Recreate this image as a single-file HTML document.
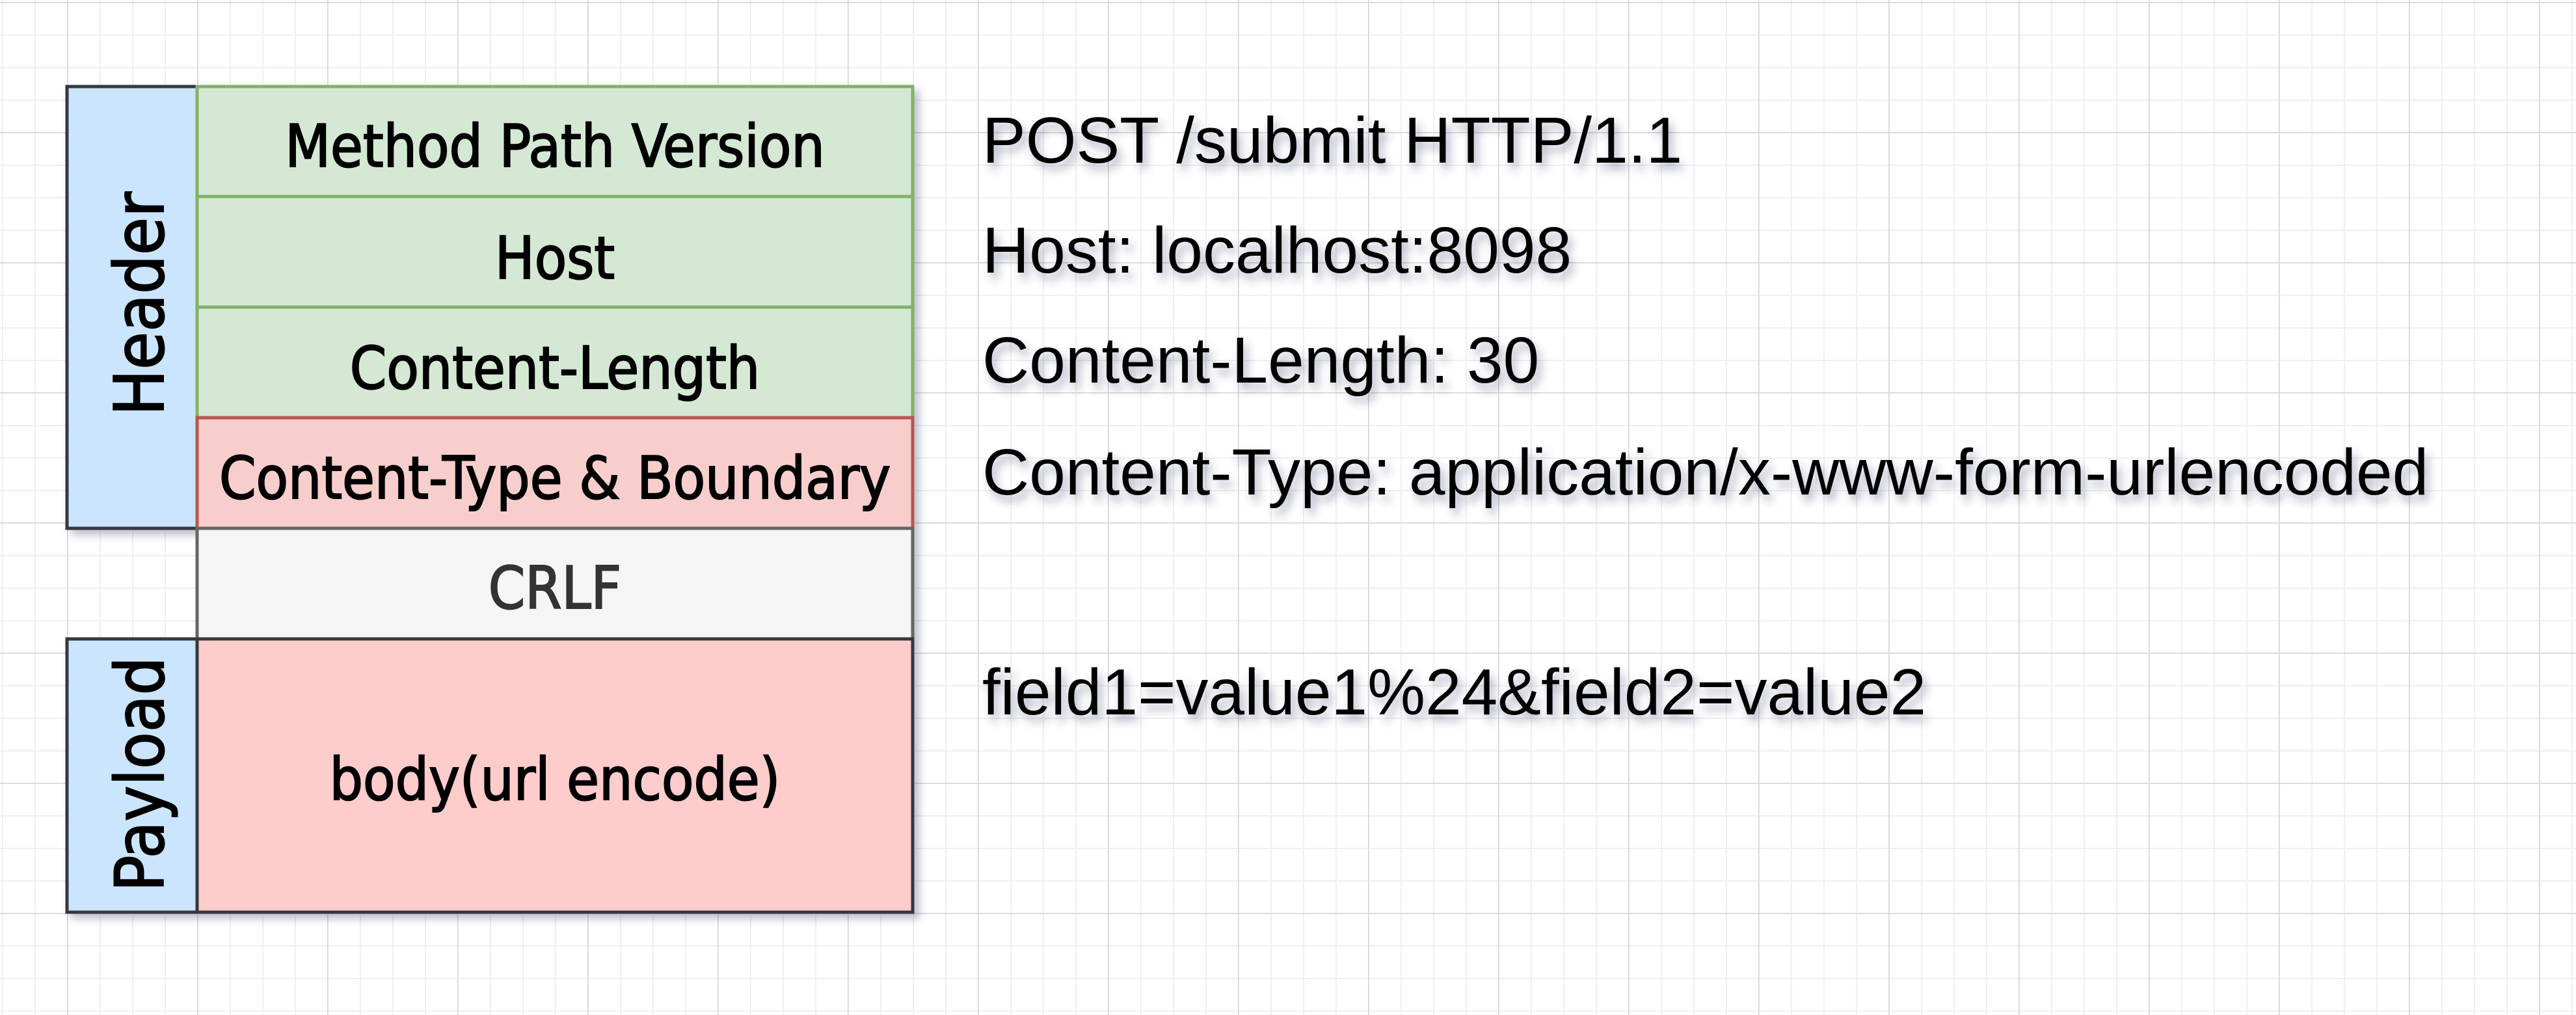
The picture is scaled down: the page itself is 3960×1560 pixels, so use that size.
<!DOCTYPE html>
<html><head><meta charset="utf-8"><style>
html,body{margin:0;padding:0;background:#fff}
svg{display:block}
</style></head><body>
<svg width="3960" height="1560" viewBox="0 0 3960 1560" xmlns="http://www.w3.org/2000/svg">
<defs>
<pattern id="minor" x="3" y="3" width="50" height="50" patternUnits="userSpaceOnUse">
<path d="M0 0H50M0 0V50" stroke="#efefef" stroke-width="4" fill="none"/>
</pattern>
<pattern id="major" x="103" y="3" width="200" height="200" patternUnits="userSpaceOnUse">
<path d="M0 0H200M0 0V200" stroke="#d6d6d6" stroke-width="3" fill="none"/>
</pattern>
<filter id="sh" x="-10%" y="-10%" width="130%" height="130%">
<feDropShadow dx="8" dy="8" stdDeviation="6" flood-color="#4a4f7a" flood-opacity="0.35"/>
</filter>
<filter id="tsh" x="-5%" y="-30%" width="115%" height="180%">
<feDropShadow dx="6" dy="10" stdDeviation="7" flood-color="#3a3f6a" flood-opacity="0.4"/>
</filter>
</defs>
<rect width="3960" height="1560" fill="#fff"/>
<rect width="3960" height="1560" fill="url(#minor)"/>
<rect width="3960" height="1560" fill="url(#major)"/>

<g filter="url(#sh)" stroke-width="5">
<rect x="103" y="133" width="200" height="679" fill="#cce5ff" stroke="#36393d"/>
<rect x="103" y="982" width="200" height="420" fill="#cce5ff" stroke="#36393d"/>
<rect x="303" y="133" width="1100" height="169" fill="#d5e8d4" stroke="#82b366"/>
<rect x="303" y="302" width="1100" height="170" fill="#d5e8d4" stroke="#82b366"/>
<rect x="303" y="472" width="1100" height="170" fill="#d5e8d4" stroke="#82b366"/>
<rect x="303" y="642" width="1100" height="170" fill="#f8cecc" stroke="#b85450"/>
<rect x="303" y="812" width="1100" height="170" fill="#f5f5f5" stroke="#666666"/>
<rect x="303" y="982" width="1100" height="420" fill="#ffcccc" stroke="#36393d"/>
</g>

<g font-family="'DejaVu Sans Condensed','DejaVu Sans',sans-serif" font-size="90" text-anchor="middle" fill="#000" stroke="#000" stroke-width="2">
<text x="853" y="256">Method Path Version</text>
<text x="853" y="428">Host</text>
<text x="853" y="597">Content-Length</text>
<text x="853" y="766">Content-Type &amp; Boundary</text>
<text x="853" y="935" fill="#333" stroke="#333">CRLF</text>
<text x="853" y="1229">body(url encode)</text>
<text transform="translate(251,467) rotate(-90)" font-size="105">Header</text>
<text transform="translate(251,1190) rotate(-90)" font-size="103">Payload</text>
</g>

<g font-family="'Liberation Sans',Arial,sans-serif" font-size="100" fill="#000" filter="url(#tsh)">
<text x="1510" y="250">POST /submit HTTP/1.1</text>
<text x="1510" y="419">Host: localhost:8098</text>
<text x="1510" y="588">Content-Length: 30</text>
<text x="1510" y="760">Content-Type: application/x-www-form-urlencoded</text>
<text x="1510" y="1098">field1=value1%24&amp;field2=value2</text>
</g>
</svg>
</body></html>
